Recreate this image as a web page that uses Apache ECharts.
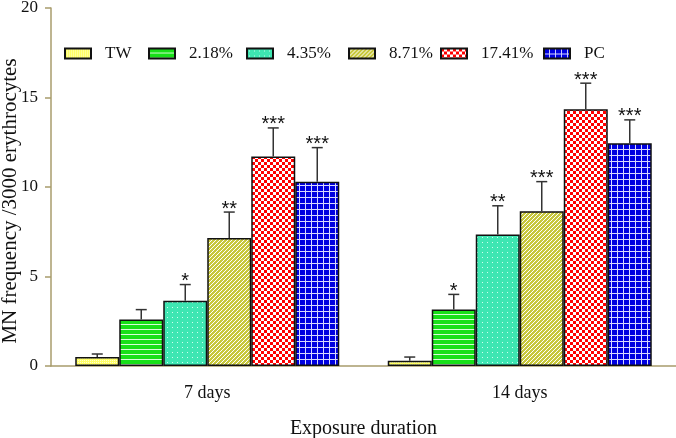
<!DOCTYPE html>
<html>
<head>
<meta charset="utf-8">
<script src="https://cdn.jsdelivr.net/npm/echarts@6/dist/echarts.min.js"></script>
<style>
html,body{margin:0;padding:0;background:#fff;}
#chart{width:676px;height:438px;}
</style>
</head>
<body>
<div id="chart"></div>
<script>
// ---- data ----
const categories = ['7 days', '14 days'];
const seriesNames = ['TW', '2.18%', '4.35%', '8.71%', '17.41%', 'PC'];
const meanTW = [0.5, 0.3];
const sdTW = [0.17, 0.2];
const starsTW = ['', ''];
const mean218 = [2.6, 3.15];
const sd218 = [0.55, 0.85];
const stars218 = ['', '*'];
const mean435 = [3.65, 7.35];
const sd435 = [0.9, 1.6];
const stars435 = ['*', '**'];
const mean871 = [7.15, 8.65];
const sd871 = [1.45, 1.65];
const stars871 = ['**', '***'];
const mean1741 = [11.7, 14.35];
const sd1741 = [1.6, 1.45];
const stars1741 = ['***', '***'];
const meanPC = [10.3, 12.45];
const sdPC = [1.9, 1.3];
const starsPC = ['***', '***'];
const yTicks = [0, 5, 10, 15, 20];

const means = [meanTW, mean218, mean435, mean871, mean1741, meanPC];
const sds = [sdTW, sd218, sd435, sd871, sd1741, sdPC];
const stars = [starsTW, stars218, stars435, stars871, stars1741, starsPC];

// ---- patterns ----
function pat(w, h, draw) {
  const c = document.createElement('canvas');
  c.width = w; c.height = h;
  const g = c.getContext('2d');
  draw(g);
  return { image: c, repeat: 'repeat' };
}
const patterns = [
  pat(4, 4, g => { g.fillStyle = '#ffff66'; g.fillRect(0,0,4,4); g.fillStyle = '#ffffd0'; g.fillRect(0,0,1,1); g.fillRect(2,2,1,1); g.fillRect(2,0,1,1); g.fillRect(0,2,1,1); }),
  pat(5, 5, g => { g.fillStyle = '#18e018'; g.fillRect(0,0,5,5); g.fillStyle = '#d8ffd8'; g.fillRect(0,4,5,1); }),
  pat(5, 5, g => { g.fillStyle = '#3ee6b2'; g.fillRect(0,0,5,5); g.fillStyle = '#d0fff0'; g.fillRect(2,2,1,1); }),
  pat(4, 4, g => { g.fillStyle = '#c8c83c'; g.fillRect(0,0,4,4); g.fillStyle = '#ffffff'; for (let i=0;i<4;i++){ g.fillRect(i,3-i,1,1); } }),
  pat(6, 6, g => { g.fillStyle = '#ffffff'; g.fillRect(0,0,6,6); g.fillStyle = '#ff0000'; g.fillRect(0,0,3,3); g.fillRect(3,3,3,3); }),
  pat(6, 6, g => { g.fillStyle = '#0000e0'; g.fillRect(0,0,6,6); g.fillStyle = '#d8d8ff'; g.fillRect(5,0,1,6); g.fillRect(0,5,6,1); })
];

const BW = 44;
const FONT = 'Liberation Serif';
const axisColor = '#a89c6c';

const series = seriesNames.map((name, i) => ({
  name: name,
  type: 'bar',
  barWidth: BW,
  barGap: '0%',
  itemStyle: { color: patterns[i], borderColor: '#111', borderWidth: 1.5 },
  data: means[i],
  z: 2
}));

const errData = [];
for (let s = 0; s < seriesNames.length; s++) {
  for (let c = 0; c < categories.length; c++) {
    errData.push([c, s, means[s][c], sds[s][c], stars[s][c]]);
  }
}
series.push({
  type: 'custom',
  name: 'err',
  z: 3,
  encode: { x: 0, y: 2 },
  data: errData,
  renderItem: function (params, api) {
    const c = api.value(0), s = api.value(1), m = api.value(2), sd = api.value(3);
    const st = errData[params.dataIndex][4];
    const base = api.coord([c, m]);
    const top = api.coord([c, m + sd]);
    const x = base[0] - 3 * BW + (s + 0.5) * BW;
    const children = [
      { type: 'line', shape: { x1: x, y1: base[1], x2: x, y2: top[1] }, style: { stroke: '#333', lineWidth: 1.5 } },
      { type: 'line', shape: { x1: x - 5.5, y1: top[1], x2: x + 5.5, y2: top[1] }, style: { stroke: '#333', lineWidth: 1.5 } }
    ];
    if (st) {
      children.push({ type: 'text', style: { text: st, x: x, y: top[1] + 7, align: 'center', verticalAlign: 'bottom', font: '20px "Liberation Sans"', fill: '#111' } });
    }
    return { type: 'group', children: children };
  }
});

// legend items positioned individually
const legendLeft = [64, 148, 246, 348, 440, 543];
const legends = seriesNames.map((n, i) => ({
  data: [n],
  left: legendLeft[i],
  top: 45,
  padding: 0,
  itemWidth: 26,
  itemHeight: 10,
  selectedMode: false,
  icon: 'rect',
  textStyle: { fontFamily: FONT, fontSize: 17, color: '#111', padding: [0, 0, 0, 9] }
}));

const chart = echarts.init(document.getElementById('chart'));
chart.setOption({
  animation: false,
  backgroundColor: '#fff',
  legend: legends,
  grid: { left: 51, right: 0, top: 8, bottom: 72, containLabel: false, outerBoundsMode: 'none' },
  xAxis: {
    type: 'category',
    data: categories,
    boundaryGap: true,
    nameMoveOverlap: false,
    axisLine: { lineStyle: { color: axisColor, width: 1.5 } },
    axisTick: { show: false },
    axisLabel: { fontFamily: FONT, fontSize: 18, color: '#111', margin: 18 },
    name: 'Exposure duration',
    nameLocation: 'middle',
    nameGap: 53,
    nameTextStyle: { fontFamily: FONT, fontSize: 20, color: '#111' }
  },
  yAxis: {
    type: 'value',
    min: yTicks[0],
    max: yTicks[yTicks.length - 1],
    interval: 5,
    nameMoveOverlap: false,
    axisLine: { show: true, lineStyle: { color: axisColor, width: 1.5 } },
    axisTick: { show: true, length: 6, lineStyle: { color: axisColor, width: 1.5 } },
    splitLine: { show: false },
    axisLabel: { fontFamily: FONT, fontSize: 17, color: '#111', margin: 13 },
    name: 'MN frequency /3000 erythrocytes',
    nameLocation: 'middle',
    nameGap: 30,
    nameTextStyle: { fontFamily: FONT, fontSize: 21, color: '#111', padding: [0, 28, 0, 0] }
  },
  series: series
});
</script>
</body>
</html>
